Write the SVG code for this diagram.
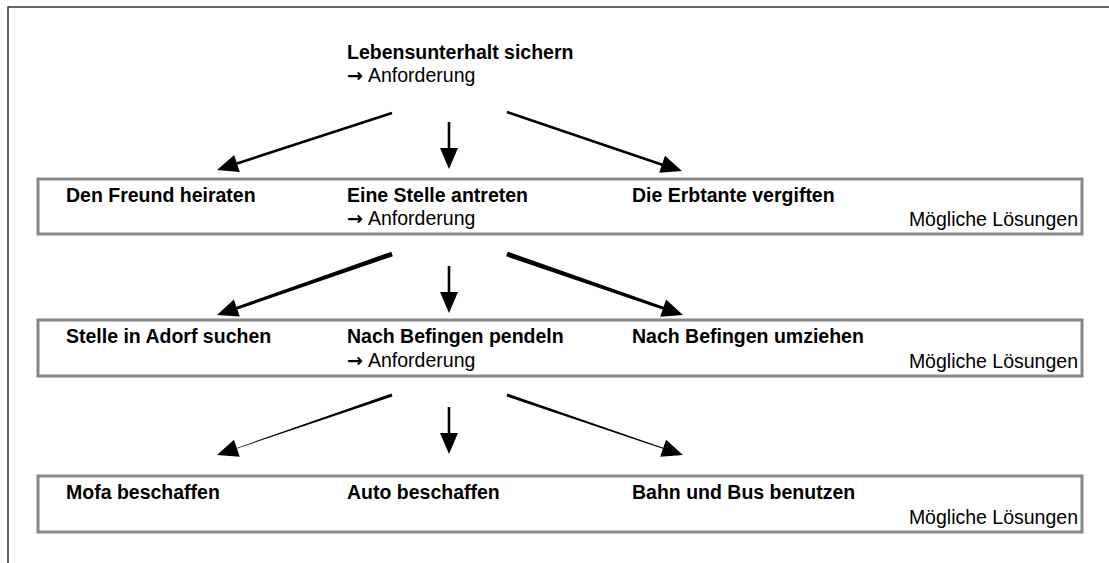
<svg xmlns="http://www.w3.org/2000/svg" width="1109" height="563" viewBox="0 0 1109 563">
  <style>
    .frame { fill: none; stroke: #333; stroke-width: 1.5; }
    .box { fill: #fff; stroke: #888; stroke-width: 3; }
    .b { font-family: "Liberation Sans", Arial, sans-serif; font-weight: bold; font-size: 19.5px; fill: #000; }
    .r { font-family: "Liberation Sans", Arial, sans-serif; font-size: 19.5px; fill: #000; }
    .arr { font-family: "DejaVu Sans", sans-serif; font-size: 19px; font-weight: bold; }
    .end { text-anchor: end; }
    .shaft { stroke: #000; stroke-width: 2.6; fill: none; }
    .taper { fill: #000; }
  </style>
  <defs>
    <path id="head" d="M0,0 L-21,-9 L-21,9 Z"/>
  </defs>

  <rect width="1109" height="563" fill="#fff"/>
  <!-- page frame (only top and left edges fall inside the view) -->
  <path class="frame" d="M8,563 L8,7 L1109,7"/>

  <!-- top requirement -->
  <g id="goal">
    <text class="b" x="347" y="59">Lebensunterhalt sichern</text>
    <text class="r" x="347" y="82"><tspan class="arr">→</tspan><tspan x="368">Anforderung</tspan></text>
  </g>

  <!-- level 1 -->
  <g id="level1">
    <rect class="box" x="38" y="179" width="1044" height="55"/>
    <text class="b" x="66" y="202">Den Freund heiraten</text>
    <text class="b" x="347" y="202">Eine Stelle antreten</text>
    <text class="r" x="347" y="225"><tspan class="arr">→</tspan><tspan x="368">Anforderung</tspan></text>
    <text class="b" x="632" y="202">Die Erbtante vergiften</text>
    <text class="r end" x="1078" y="226">Mögliche Lösungen</text>
  </g>

  <!-- level 2 -->
  <g id="level2">
    <rect class="box" x="38" y="320" width="1044" height="56"/>
    <text class="b" x="66" y="343">Stelle in Adorf suchen</text>
    <text class="b" x="347" y="343">Nach Befingen pendeln</text>
    <text class="r" x="347" y="367"><tspan class="arr">→</tspan><tspan x="368">Anforderung</tspan></text>
    <text class="b" x="632" y="343">Nach Befingen umziehen</text>
    <text class="r end" x="1078" y="368">Mögliche Lösungen</text>
  </g>

  <!-- level 3 -->
  <g id="level3">
    <rect class="box" x="38" y="476" width="1044" height="56"/>
    <text class="b" x="66" y="499">Mofa beschaffen</text>
    <text class="b" x="347" y="499">Auto beschaffen</text>
    <text class="b" x="632" y="499">Bahn und Bus benutzen</text>
    <text class="r end" x="1078" y="524">Mögliche Lösungen</text>
  </g>

  <!-- connectors -->
  <g id="connectors">
    <!-- from goal -->
    <line class="shaft" x1="392" y1="113" x2="237" y2="163.5"/>
    <use href="#head" transform="translate(217,170) rotate(161.96)"/>
    <line class="shaft" x1="449" y1="122" x2="449" y2="150"/>
    <use href="#head" transform="translate(449,169) rotate(90)"/>
    <line class="shaft" x1="507" y1="112" x2="663" y2="165"/>
    <use href="#head" transform="translate(682,171) rotate(18.63)"/>

    <!-- from "Eine Stelle antreten" -->
    <polygon class="taper" points="391.21,251.73 392.79,256.27 234.49,310.52 233.51,307.68"/>
    <use href="#head" transform="translate(217,315) rotate(160.78)"/>
    <line class="shaft" x1="449" y1="266" x2="449" y2="295"/>
    <use href="#head" transform="translate(449,313) rotate(90)"/>
    <polygon class="taper" points="507.79,251.73 506.21,256.27 665.51,310.52 666.49,307.68"/>
    <use href="#head" transform="translate(683,315) rotate(19.11)"/>

    <!-- from "Nach Befingen pendeln" -->
    <polygon class="taper" points="391.48,393.49 392.52,396.51 234.1,449.48 233.9,448.92"/>
    <use href="#head" transform="translate(217,455) rotate(161.08)"/>
    <line class="shaft" x1="449" y1="407" x2="449" y2="436"/>
    <use href="#head" transform="translate(449,454) rotate(90)"/>
    <polygon class="taper" points="507.48,393.58 506.52,396.42 665.84,449.67 666.16,448.73"/>
    <use href="#head" transform="translate(683,455) rotate(18.82)"/>
  </g>
</svg>
